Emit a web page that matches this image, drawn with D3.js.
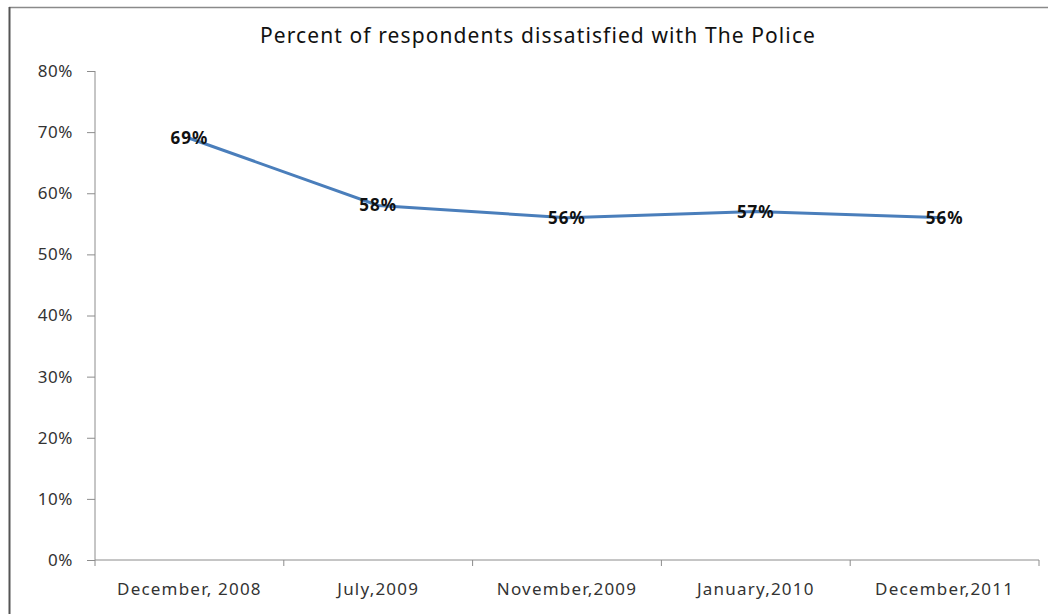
<!DOCTYPE html>
<html>
<head>
<meta charset="utf-8">
<script src="https://cdn.jsdelivr.net/npm/d3@7"></script>
<style>
  body { margin: 0; background: #fff; }
  svg { display: block; font-family: "Noto Sans", sans-serif; }
</style>
</head>
<body>
<div id="canvas"></div>
<script>
const categories = ['December, 2008', 'July,2009', 'November,2009', 'January,2010', 'December,2011'];
const values = [69, 58, 56, 57, 56];
const yTicks = [0, 10, 20, 30, 40, 50, 60, 70, 80];

const MARGIN = { LEFT: 95, RIGHT: 9, TOP: 71, BOTTOM: 54 };
const WIDTH = 1048 - MARGIN.LEFT - MARGIN.RIGHT;
const HEIGHT = 614 - MARGIN.TOP - MARGIN.BOTTOM;

const svg = d3.select('#canvas').append('svg')
  .attr('width', 1048)
  .attr('height', 614);

// outer frame
svg.append('line')
  .attr('x1', 9).attr('x2', 1048).attr('y1', 7.5).attr('y2', 7.5)
  .attr('stroke', '#8a8a8a').attr('stroke-width', 1.5);
svg.append('line')
  .attr('x1', 9.5).attr('x2', 9.5).attr('y1', 7).attr('y2', 614)
  .attr('stroke', '#555').attr('stroke-width', 2);

svg.append('text')
  .attr('x', 538).attr('y', 43)
  .attr('text-anchor', 'middle')
  .attr('font-size', 21)
  .attr('letter-spacing', 1.1)
  .attr('fill', '#111')
  .text('Percent of respondents dissatisfied with The Police');

const g = svg.append('g')
  .attr('transform', `translate(${MARGIN.LEFT}, ${MARGIN.TOP})`);

const x = d3.scaleBand()
  .domain(categories)
  .range([0, WIDTH]);

const y = d3.scaleLinear()
  .domain([0, 80])
  .range([HEIGHT, 0]);

const yAxis = g.append('g')
  .call(d3.axisLeft(y).tickValues(yTicks).tickFormat(d => d + '%').tickSize(8).tickPadding(14));
yAxis.selectAll('line').attr('stroke', '#8c8c8c');
yAxis.select('.domain').attr('stroke', '#8c8c8c').attr('d', `M0,0V${HEIGHT}`);
yAxis.selectAll('text')
  .attr('font-size', 17).attr('letter-spacing', 0.6).attr('fill', '#333')
  .attr('font-family', '"Noto Sans", sans-serif');

const xAxis = g.append('g')
  .attr('transform', `translate(0, ${HEIGHT})`)
  .call(d3.axisBottom(x).tickSize(0).tickPadding(23));
xAxis.select('.domain').attr('stroke', '#8c8c8c').attr('d', `M0,0H${WIDTH}`);
xAxis.selectAll('text')
  .attr('font-size', 17).attr('letter-spacing', 1.2).attr('fill', '#333')
  .attr('font-family', '"Noto Sans", sans-serif');

// category boundary ticks
g.selectAll('.xtick')
  .data([...categories.map(c => x(c)), WIDTH])
  .enter().append('line')
  .attr('x1', d => d).attr('x2', d => d)
  .attr('y1', HEIGHT).attr('y2', HEIGHT + 6)
  .attr('stroke', '#8c8c8c');

const line = d3.line()
  .x((d, i) => x(categories[i]) + x.bandwidth() / 2)
  .y(d => y(d));

g.append('path')
  .datum(values)
  .attr('fill', 'none')
  .attr('stroke', '#4a7ebb')
  .attr('stroke-width', 3)
  .attr('d', line);

g.selectAll('.label')
  .data(values)
  .enter().append('text')
  .attr('x', (d, i) => x(categories[i]) + x.bandwidth() / 2)
  .attr('y', d => y(d) + 6)
  .attr('text-anchor', 'middle')
  .attr('font-size', 17)
  .attr('font-weight', 'bold')
  .attr('letter-spacing', 1)
  .attr('fill', '#111')
  .text(d => d + '%');
</script>
</body>
</html>
